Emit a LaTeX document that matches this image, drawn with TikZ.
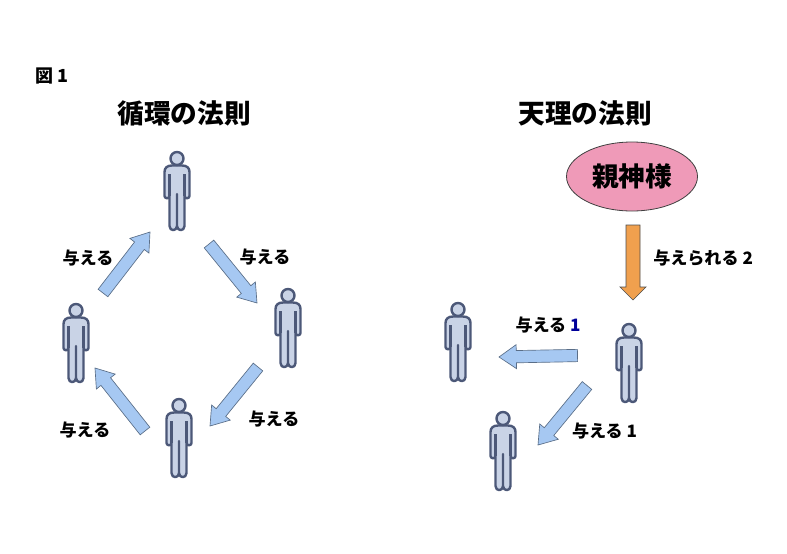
\documentclass[tikz,border=0pt]{standalone}
\usepackage{fontspec}
\setmainfont{Noto Sans CJK JP}
\usetikzlibrary{calc,shapes.geometric}
\definecolor{manline}{HTML}{4C5878}
\definecolor{manfill}{HTML}{C9D3E6}
\definecolor{giveblue}{HTML}{A6C8F2}
\definecolor{giveline}{HTML}{5A6E88}
\definecolor{godpink}{HTML}{EF9AB8}
\definecolor{godorange}{HTML}{F0A04E}
\tikzset{
  blockarrow/.style n args={3}{line width=0.5pt,line join=miter,to path={
    ($(\tikztostart)!#1!90:(\tikztotarget)$)
    -- ($($(\tikztotarget)!#3!(\tikztostart)$)!#1!90:(\tikztotarget)$)
    -- ($($(\tikztotarget)!#3!(\tikztostart)$)!#2!90:(\tikztotarget)$)
    -- (\tikztotarget)
    -- ($($(\tikztotarget)!#3!(\tikztostart)$)!#2!-90:(\tikztotarget)$)
    -- ($($(\tikztotarget)!#3!(\tikztostart)$)!#1!-90:(\tikztotarget)$)
    -- ($(\tikztostart)!#1!-90:(\tikztotarget)$) -- cycle}},
  give/.style={blockarrow={4.6pt}{9pt}{13pt},draw=giveline,fill=giveblue},
  receive/.style={blockarrow={5.25pt}{9.75pt}{9.75pt},draw=black!70,fill=godorange},
  title/.style={font=\bfseries\fontsize{20}{24}\selectfont},
  word/.style={font=\bfseries\fontsize{12.8}{15}\selectfont,inner sep=0pt},
  pics/person/.style={code={
    \draw[manline,fill=manfill,line width=1.8pt,line join=round]
      (-5,14.5) .. controls (-10,14.5) and (-12.5,17) .. (-12.5,21) -- (-12.5,45)
      .. controls (-12.5,48) and (-7.5,48) .. (-7.5,45) -- (-7.5,75)
      .. controls (-7.5,80.5) and (0,80.5) .. (0,75) -- (0,43) -- (0,75)
      .. controls (0,80.5) and (7.5,80.5) .. (7.5,75) -- (7.5,45)
      .. controls (7.5,48) and (12.5,48) .. (12.5,45) -- (12.5,21)
      .. controls (12.5,17) and (10,14.5) .. (5,14.5) -- cycle;
    \draw[manline,line width=1.8pt] (-7.5,23) -- (-7.5,45) (7.5,23) -- (7.5,45);
    \draw[manline,fill=manfill,line width=1.8pt] (0,7.5) circle [radius=6.5];
  }}
}
\begin{document}
\begin{tikzpicture}[x=0.75pt,y=-0.75pt]
  \useasboundingbox (0,0) rectangle (787,553);

  % 見出し
  \node[word,font=\bfseries\fontsize{13.5}{16}\selectfont] (fig) at (52,76) {図 1};
  \node[title] (cycle) at (184,113) {循環の法則};
  \node[title] (tenri) at (585,113) {天理の法則};

  % 循環の法則の人
  \pic (mantop) at (177,151) {person};
  \pic (manright) at (288,288) {person};
  \pic (manleft) at (76,303) {person};
  \pic (manbottom) at (179,398) {person};

  % 循環の矢印
  \coordinate (a1s) at (103,293);
  \coordinate (a1e) at (150,232);
  \coordinate (a2s) at (209,244);
  \coordinate (a2e) at (257,303);
  \coordinate (a3s) at (258,367);
  \coordinate (a3e) at (210,426);
  \coordinate (a4s) at (145,431);
  \coordinate (a4e) at (95,368);
  \draw[give] (a1s) to (a1e);
  \draw[give] (a2s) to (a2e);
  \draw[give] (a3s) to (a3e);
  \draw[give] (a4s) to (a4e);

  % 循環のラベル
  \node[word] (w1) at (88,258) {与える};
  \node[word] (w2) at (265,257) {与える};
  \node[word] (w3) at (274,419) {与える};
  \node[word] (w4) at (85,430) {与える};

  % 親神様
  \node[ellipse,draw=black!75,fill=godpink,line width=0.6pt,minimum width=98.25pt,minimum height=51.75pt,inner sep=0pt,title] (god) at (632,176.5) {親神様};
  \coordinate (g1s) at (633,225);
  \coordinate (g1e) at (633,300);
  \draw[receive] (g1s) to (g1e);
  \node[word,anchor=west] (w5) at (653,258) {与えられる 2};

  % 天理の法則の人
  \pic (manfrom) at (629,323) {person};
  \pic (manto) at (458,302) {person};
  \pic (manlow) at (503,411) {person};

  % 天理の矢印
  \coordinate (b1s) at (577.5,355.5);
  \coordinate (b1e) at (499,357);
  \coordinate (b2s) at (587,385.5);
  \coordinate (b2e) at (538,445);
  \draw[give] (b1s) to (b1e);
  \draw[give] (b2s) to (b2e);
  \node[word] (w6) at (548,325) {与える \textcolor{blue!60!black}{1}};
  \node[word] (w7) at (604.5,431) {与える 1};
\end{tikzpicture}
\end{document}
